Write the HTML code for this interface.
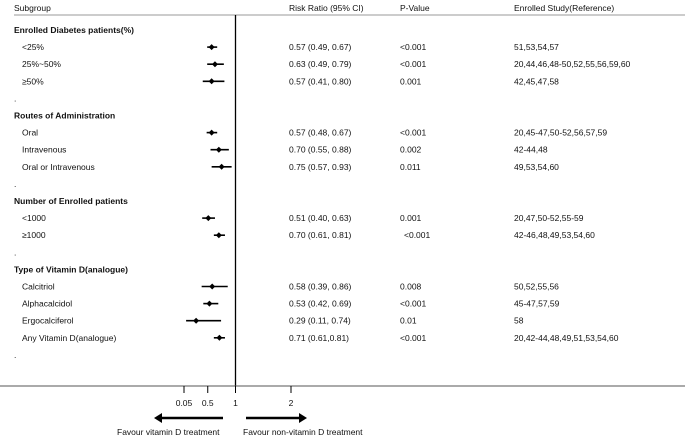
<!DOCTYPE html>
<html><head><meta charset="utf-8"><style>
body{margin:0;background:#fff}
svg{display:block;font-family:"Liberation Sans",sans-serif;font-size:8.5px;fill:#111}
.b{font-weight:bold}
</style></head><body>
<svg id="c" width="685" height="437">
<text x="14" y="11">Subgroup</text>
<text x="289" y="11">Risk Ratio (95% CI)</text>
<text x="400" y="11">P-Value</text>
<text x="514" y="11">Enrolled Study(Reference)</text>
<line x1="14" y1="15" x2="685" y2="15" stroke="#999" stroke-width="1"/>
<g id="rows"></g>
<g id="marks"></g>
<g id="axis"></g>
<path d="M162 418 L223 418" stroke="#000" stroke-width="2.5"/>
<path d="M162 413 L154 418 L162 423 Z" fill="#000"/>
<path d="M246 418 L299 418" stroke="#000" stroke-width="2.5"/>
<path d="M299 413 L307 418 L299 423 Z" fill="#000"/>
<text x="117" y="435">Favour vitamin D treatment</text>
<text x="243" y="435">Favour non-vitamin D treatment</text>
</svg>
<script>
const labels=["Enrolled Diabetes patients(%)","<25%","25%~50%","≥50%",".","Routes of  Administration","Oral","Intravenous","Oral or Intravenous",".","Number of Enrolled patients","<1000","≥1000",".","Type of Vitamin D(analogue)","Calcitriol","Alphacalcidol","Ergocalciferol","Any Vitamin D(analogue)","."];
const isHeader=[1,0,0,0,0,1,0,0,0,0,1,0,0,0,1,0,0,0,0,0];
const rr=[null,0.57,0.63,0.57,null,null,0.57,0.70,0.75,null,null,0.51,0.70,null,null,0.58,0.53,0.29,0.71,null];
const lo=[null,0.49,0.49,0.41,null,null,0.48,0.55,0.57,null,null,0.40,0.61,null,null,0.39,0.42,0.11,0.61,null];
const hi=[null,0.67,0.79,0.80,null,null,0.67,0.88,0.93,null,null,0.63,0.81,null,null,0.86,0.69,0.74,0.81,null];
const ciText=["","0.57 (0.49, 0.67)","0.63 (0.49, 0.79)","0.57 (0.41, 0.80)","","","0.57 (0.48, 0.67)","0.70 (0.55, 0.88)","0.75 (0.57, 0.93)","","","0.51 (0.40, 0.63)","0.70 (0.61, 0.81)","","","0.58 (0.39, 0.86)","0.53 (0.42, 0.69)","0.29 (0.11, 0.74)","0.71 (0.61,0.81)",""];
const pText=["","<0.001","<0.001","0.001","","","<0.001","0.002","0.011","","","0.001","<0.001","","","0.008","<0.001","0.01","<0.001",""];
const refText=["","51,53,54,57","20,44,46,48-50,52,55,56,59,60","42,45,47,58","","","20,45-47,50-52,56,57,59","42-44,48","49,53,54,60","","","20,47,50-52,55-59","42-46,48,49,53,54,60","","","50,52,55,56","45-47,57,59","58","20,42-44,48,49,51,53,54,60",""];
const tickVals=[0.05,0.5,1,2];
const tickLabels=["0.05","0.5","1","2"];
const ns="http://www.w3.org/2000/svg";
const X=v=>180+55.5*v;
const Y=i=>33+i*17.1;
function mk(tag,at,parent,txt){const e=document.createElementNS(ns,tag);for(const k in at)e.setAttribute(k,at[k]);if(txt!==undefined)e.textContent=txt;parent.appendChild(e);return e;}
const rows=document.getElementById('rows'),marks=document.getElementById('marks'),axis=document.getElementById('axis');
labels.forEach((l,i)=>{
  const t=mk('text',{x:isHeader[i]?14:(l==="."?14:22),y:Y(i),class:isHeader[i]?'b':''},rows,l);
  
  
  if(ciText[i]){const a=mk('text',{x:289,y:Y(i)},rows,ciText[i]);
    
    }
  if(pText[i]){const p=mk('text',{x:pText[i]==="<0.001"&&i===12?404:400,y:Y(i)},rows,pText[i]);
    
    }
  if(refText[i]){const r=mk('text',{x:514,y:Y(i)},rows,refText[i]);
    
    }
  if(rr[i]!==null){
    const yy=Y(i)-3;
    const ln=mk('line',{x1:X(lo[i]),x2:X(hi[i]),y1:yy,y2:yy,stroke:'#000','stroke-width':1.6},marks);
    
    
    const d=mk('path',{d:`M${X(rr[i])-3} ${yy} L${X(rr[i])} ${yy-3} L${X(rr[i])+3} ${yy} L${X(rr[i])} ${yy+3} Z`,fill:'#000'},marks);
    
    
  }
});
const vl=mk('line',{x1:X(1),x2:X(1),y1:15,y2:386,stroke:'#000','stroke-width':1.3},axis);


const xl=mk('line',{x1:0,x2:685,y1:386,y2:386,stroke:'#555','stroke-width':1},axis);


tickVals.forEach((v,i)=>{
  const x=v===0.05?184:X(v);
  const t=mk('line',{x1:x,x2:x,y1:386,y2:393,stroke:'#000','stroke-width':1},axis);
  
  
  const l=mk('text',{x:x,y:406,'text-anchor':'middle'},axis,tickLabels[i]);
  
  
});
</script>
</body></html>
